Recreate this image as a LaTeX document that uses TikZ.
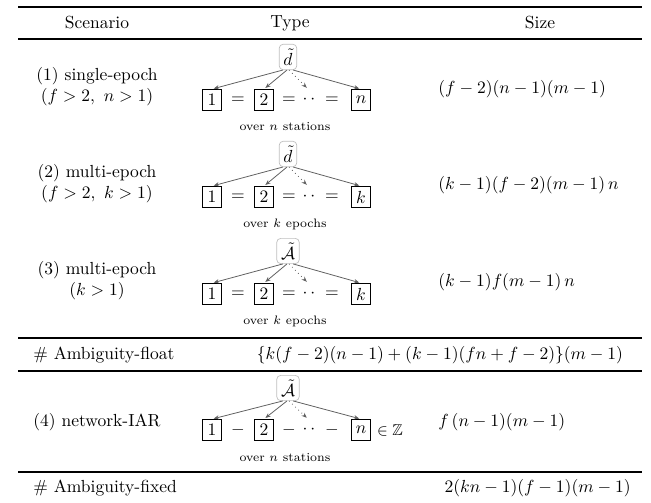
\documentclass[tikz,border=0pt]{standalone}
\usepackage{amsmath,amssymb}
\usetikzlibrary{arrows.meta}
\tikzset{
  rulel/.style={line width=1pt},
  lbl/.style={draw, line width=0.5pt, minimum width=11pt, minimum height=12pt, inner sep=0pt},
  rootbox/.style={draw=gray!50, rounded corners=2.2pt, inner xsep=2.4pt, inner ysep=2.6pt, minimum width=10pt, minimum height=14pt},
  arr/.style={-{Stealth[length=3pt,width=2.4pt]}, draw=gray!75!black, line width=0.45pt, shorten >=1pt},
  darr/.style={arr, dotted},
  txt/.style={inner sep=0pt},
  capnode/.style={inner sep=0pt, font=\scriptsize},
}
\newcommand{\typerow}[8]{%
  \node[rootbox] (#1r) at (288,#2) {$#5$};
  \node[lbl] (#1a) at (212,#3) {$1$};
  \node[txt] (#1o1) at (238,#3) {$#7$};
  \node[lbl] (#1b) at (264,#3) {$2$};
  \node[txt] (#1o2) at (289,#3) {$#7$};
  \node[txt] (#1d) at (309,#3) {${\cdot}\,{\cdot}$};
  \node[txt] (#1o3) at (332,#3) {$#7$};
  \node[lbl] (#1c) at (361,#3) {$#6$};
  \coordinate (#1dt) at (308,#3-11);
  \node[capnode] (#1cap) at (285,#4) {#8};
  \draw[arr] ([xshift=-3pt]#1r.south) -- (#1a.north);
  \draw[arr] ([xshift=-0.6pt]#1r.south) -- (#1b.north);
  \draw[darr] ([xshift=0.6pt]#1r.south) -- (#1dt);
  \draw[arr] ([xshift=3pt]#1r.south) -- (#1c.north);
}
\begin{document}
\begin{tikzpicture}[x=0.5714pt,y=-0.5714pt]
\useasboundingbox (0,0) rectangle (651,502);
\coordinate (l1) at (18,7); \coordinate (r1) at (642,7);
\coordinate (l2) at (18,39); \coordinate (r2) at (642,39);
\coordinate (l3) at (18,338); \coordinate (r3) at (642,338);
\coordinate (l4) at (18,371); \coordinate (r4) at (642,371);
\coordinate (l5) at (18,472); \coordinate (r5) at (642,472);
\draw[rulel] (l1) -- (r1);
\draw[rulel] (l2) -- (r2);
\draw[rulel] (l3) -- (r3);
\draw[rulel] (l4) -- (r4);
\draw[rulel] (l5) -- (r5);
\node[txt] (h1) at (97,23) {Scenario};
\node[txt] (h2) at (290,23) {Type};
\node[txt] (h3) at (540,23) {Size};
\node[txt, align=center] (s1) at (97,87) {(1) single-epoch\\$(f>2,\ n>1)$};
\node[txt, align=center] (s2) at (97,184) {(2) multi-epoch\\$(f>2,\ k>1)$};
\node[txt, align=center] (s3) at (97,281) {(3) multi-epoch\\$(k>1)$};
\node[txt] (s4) at (97,422) {(4) network-IAR};
\typerow{t1}{57}{100}{127}{\tilde{d}}{n}{=}{over $n$ stations}
\typerow{t2}{154}{197}{224}{\tilde{d}}{k}{=}{over $k$ epochs}
\typerow{t3}{251}{294}{321}{\tilde{\mathcal{A}}}{k}{=}{over $k$ epochs}
\typerow{t4}{388}{430}{458}{\tilde{\mathcal{A}}}{n}{-}{over $n$ stations}
\node[txt, font=\small] (z4) at (390,430) {$\in\mathbb{Z}$};
\node[txt, anchor=west] (z1) at (438,89) {$(f-2)(n-1)(m-1)$};
\node[txt, anchor=west] (z2) at (438,185) {$(k-1)(f-2)(m-1)\,n$};
\node[txt, anchor=west] (z3) at (438,282) {$(k-1)f(m-1)\,n$};
\node[txt, anchor=west] (z5) at (438,422) {$f\,(n-1)(m-1)$};
\node[txt, anchor=west] (af) at (33,355) {\# Ambiguity-float};
\node[txt] (afv) at (440,355) {$\{k(f-2)(n-1)+(k-1)(fn+f-2)\}(m-1)$};
\node[txt, anchor=west] (ax) at (33,488) {\# Ambiguity-fixed};
\node[txt, anchor=east] (axv) at (631,488) {$2(kn-1)(f-1)(m-1)$};
\end{tikzpicture}
\end{document}
